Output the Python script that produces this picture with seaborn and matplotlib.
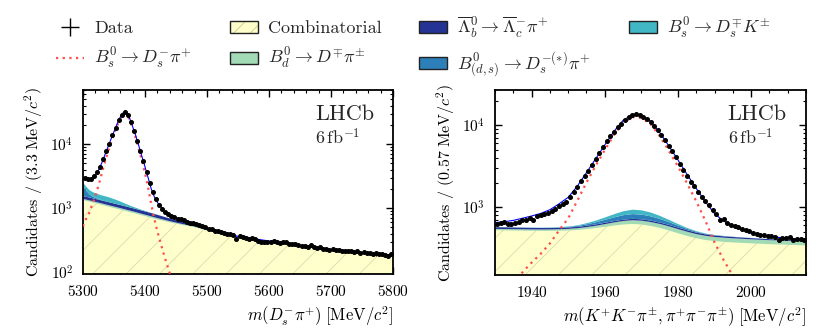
import numpy as np
import matplotlib
matplotlib.use("Agg")
import matplotlib.pyplot as plt
import seaborn as sns
from matplotlib.lines import Line2D
from matplotlib.patches import Patch
from matplotlib.ticker import MultipleLocator, NullFormatter

sns.set_theme(style="ticks")
plt.rcParams.update({
    "font.family": "serif",
    "font.serif": ["cmr10"],
    "mathtext.fontset": "cm",
    "axes.unicode_minus": False,
    "axes.formatter.use_mathtext": True,
    "hatch.linewidth": 0.6,
    "axes.linewidth": 1.3,
    "axes.edgecolor": "black",
})

# ---------------- left panel: m(Ds- pi+) ----------------
dspi_centers = np.arange(5302.5, 5800, 5.0)
dspi_counts = [
    2960, 2800, 2850, 3150, 3600, 4400, 5750, 7800, 10200, 13800,
    18100, 23600, 28700, 31200, 28300, 22500, 16000, 11300, 7900, 5400,
    3650, 2450, 1800, 1370, 1120, 960, 870, 800, 750, 720,
    680, 665, 640, 615, 590, 585, 560, 540, 530, 500,
    478, 470, 445, 440, 430, 405, 400, 395, 375, 330,
    365, 350, 345, 330, 340, 325, 305, 300, 290, 300,
    298, 310, 295, 285, 292, 290, 275, 270, 272, 262,
    255, 255, 250, 262, 245, 240, 242, 230, 233, 222,
    226, 218, 222, 214, 216, 210, 213, 206, 210, 200,
    204, 196, 199, 192, 195, 190, 194, 186, 180, 190,
]

dspi_fit_x = [5300, 5305, 5310, 5315, 5320, 5325, 5330, 5335, 5340, 5345,
              5350, 5355, 5360, 5365, 5370, 5375, 5380, 5385, 5390, 5395,
              5400, 5405, 5410, 5415, 5420, 5425, 5430, 5435, 5440, 5445,
              5450, 5455, 5460, 5470, 5480, 5490, 5500, 5525, 5550, 5600,
              5650, 5700, 5750, 5800]
dspi_comb = [1350, 1315, 1280, 1245, 1210, 1175, 1140, 1107, 1075, 1045,
             1015, 987, 960, 932, 905, 880, 855, 830, 805, 782,
             760, 737, 715, 695, 675, 657, 640, 624, 608, 594,
             580, 567, 555, 532, 510, 480, 450, 398, 348, 297,
             257, 219, 197, 181]
dspi_bd = [60, 60, 60, 60, 60, 60, 60, 59, 58, 57,
           56, 55, 53, 52, 50, 49, 47, 46, 44, 42,
           40, 38, 36, 34, 32, 30, 28, 26, 24, 22,
           20, 18, 17, 14, 12, 10, 9, 6, 4, 3,
           2, 2, 1, 1]
dspi_lb = [150, 148, 145, 142, 140, 138, 135, 133, 130, 128,
           125, 122, 120, 118, 115, 112, 110, 108, 105, 102,
           100, 97, 95, 91, 88, 82, 75, 70, 65, 60,
           56, 52, 48, 42, 36, 30, 24, 14, 9, 6,
           4, 3, 2, 2]
dspi_bds = [620, 350, 170, 90, 50, 28, 15, 9, 5, 3,
            2, 1, 0, 0, 0, 0, 0, 0, 0, 0,
            0, 0, 0, 0, 0, 0, 0, 0, 0, 0,
            0, 0, 0, 0, 0, 0, 0, 0, 0, 0,
            0, 0, 0, 0]
dspi_bsk = [300, 290, 280, 272, 265, 260, 255, 248, 240, 222,
            200, 175, 150, 122, 95, 73, 55, 41, 30, 21,
            15, 10, 7, 5, 3, 2, 1, 0, 0, 0,
            0, 0, 0, 0, 0, 0, 0, 0, 0, 0,
            0, 0, 0, 0]
dspi_sig = [520, 680, 840, 1150, 1550, 2250, 3400, 5100, 7400, 10400,
            14300, 19300, 25000, 30000, 29300, 24500, 17800, 12600, 8400, 5500,
            3500, 2100, 1150, 680, 430, 290, 195, 135, 95, 66,
            46, 32, 22, 11, 5, 2.2, 1, 0.1, 0.01, 0.001,
            0.001, 0.001, 0.001, 0.001]

# ---------------- right panel: m(Ds) ----------------
ds_centers = np.arange(1930.5, 2015, 1.0)
ds_counts = [
    625, 640, 668, 615, 622, 645, 655, 700, 690, 730,
    690, 770, 800, 818, 860, 895, 950, 1020, 1090, 1170,
    1340, 1520, 1780, 2060, 2380, 2780, 3250, 3900, 4550, 5400,
    6350, 7350, 8400, 9500, 10500, 11600, 12500, 13200, 13600, 13400,
    12800, 12000, 11000, 9850, 8700, 7600, 6600, 5650, 4800, 4050,
    3400, 2850, 2400, 2050, 1790, 1540, 1350, 1180, 1050, 930,
    830, 690, 720, 640, 610, 590, 575, 548, 530, 505,
    485, 472, 462, 458, 445, 448, 432, 398, 425, 420,
    428, 396, 410, 404, 400,
]

ds_fit_x = np.arange(1930, 2015.1, 2.5)
ds_comb = [530, 528, 526, 524, 522, 521, 521, 523, 527, 535,
           548, 565, 585, 606, 624, 632, 622, 598, 565, 525,
           485, 450, 422, 402, 390, 382, 376, 371, 366, 362,
           358, 355, 352, 349, 346]
ds_bd = [20, 20, 20, 20, 20, 20, 21, 22, 24, 27,
         31, 37, 45, 55, 64, 70, 70, 68, 66, 64,
         60, 56, 52, 50, 48, 47, 46, 45, 44, 43,
         42, 42, 41, 41, 40]
ds_lb = [28, 27, 26, 25, 24, 23, 22, 22, 22, 22,
         23, 24, 25, 26, 27, 28, 28, 27, 26, 25,
         24, 22, 21, 19, 18, 17, 16, 15, 14, 13,
         12, 11, 10, 9, 8]
ds_bds = [1, 1, 1, 2, 2, 3, 4, 6, 9, 14,
          25, 38, 56, 75, 95, 105, 102, 90, 70, 50,
          33, 20, 12, 7, 4, 3, 2, 1, 1, 1,
          1, 1, 1, 1, 1]
ds_bsk = [1, 1, 1, 1, 2, 2, 3, 5, 7, 11,
          20, 32, 50, 72, 95, 110, 105, 88, 65, 43,
          26, 15, 8, 4, 3, 2, 1, 1, 1, 1,
          1, 1, 1, 1, 1]
ds_sig = [67, 87, 115, 160, 210, 270, 360, 520, 730, 1200,
          2000, 3200, 5000, 7600, 10600, 12600, 12300, 10400, 7400, 4900,
          3150, 1950, 1180, 680, 370, 225, 145, 95, 62, 40,
          26, 17, 11, 7, 4]

C_COMB = "#ffffcc"
C_BD = "#a1dab4"
C_LB = "#253494"
C_BDS = "#2c7fb8"
C_BSK = "#41b6c4"
C_SIG = "#ff4d4d"


def draw_panel(ax, centers, counts, half_bin, fit_x, parts, signal):
    fit_x = np.asarray(fit_x, float)
    stack = np.cumsum(np.array(parts, float), axis=0)
    ax.fill_between(fit_x, np.ones_like(fit_x), stack[0], facecolor=C_COMB,
                    edgecolor="#dadab0", hatch="/", lw=0, zorder=1)
    lower = stack[0]
    for upper, col in zip(stack[1:], [C_BD, C_LB, C_BDS, C_BSK]):
        ax.fill_between(fit_x, lower, upper, color=col, lw=0, zorder=1)
        lower = upper
    signal = np.asarray(signal, float)
    total = stack[-1] + signal
    sns.lineplot(x=fit_x, y=signal, ax=ax, color=C_SIG, lw=1.6,
                 linestyle=(0, (1, 2)), zorder=3)
    sns.lineplot(x=fit_x, y=total, ax=ax, color="blue", lw=0.8, zorder=4)
    counts = np.asarray(counts, float)
    ax.errorbar(centers, counts, yerr=np.sqrt(counts), xerr=half_bin, fmt="o",
                ms=2.6, color="black", elinewidth=0.8, capsize=0, zorder=5)
    ax.set_yscale("log")
    ax.tick_params(which="both", direction="in", top=True, right=True,
                   labelsize=11, colors="black")
    ax.tick_params(which="major", length=5, width=1.0, pad=7)
    ax.tick_params(which="minor", length=2.5, width=0.8)
    ax.yaxis.set_minor_formatter(NullFormatter())
    ax.text(0.748, 0.87, "LHCb", transform=ax.transAxes, fontsize=16,
            ha="left", va="center")
    ax.text(0.748, 0.745, r"$6\,\mathrm{fb}^{-1}$", transform=ax.transAxes,
            fontsize=13, ha="left", va="center")


fig = plt.figure(figsize=(8.3, 3.33), dpi=100)
ax1 = fig.add_axes([0.1, 0.177, 0.3735, 0.5526])
ax2 = fig.add_axes([0.5964, 0.174, 0.3747, 0.5556])

draw_panel(ax1, dspi_centers, dspi_counts, 2.5, dspi_fit_x,
           [dspi_comb, dspi_bd, dspi_lb, dspi_bds, dspi_bsk], dspi_sig)
ax1.set_xlim(5300, 5800)
ax1.set_ylim(93, 7e4)
ax1.xaxis.set_major_locator(MultipleLocator(100))
ax1.xaxis.set_minor_locator(MultipleLocator(20))
ax1.set_xlabel(r"$m(D_s^{-}\pi^{+})\;[\mathrm{MeV}/c^2]$", fontsize=12, loc="right")
ax1.set_ylabel(r"Candidates / $(3.3\;\mathrm{MeV}/c^2)$", fontsize=11.5)

draw_panel(ax2, ds_centers, ds_counts, 0.5, ds_fit_x,
           [ds_comb, ds_bd, ds_lb, ds_bds, ds_bsk], ds_sig)
ax2.set_xlim(1930, 2015)
ax2.set_ylim(148, 2.7e4)
ax2.xaxis.set_major_locator(MultipleLocator(20))
ax2.xaxis.set_minor_locator(MultipleLocator(5))
ax2.set_xlabel(r"$m(K^{+}K^{-}\pi^{\pm},\pi^{+}\pi^{-}\pi^{\pm})\;[\mathrm{MeV}/c^2]$",
               fontsize=12, loc="right")
ax2.set_ylabel(r"Candidates / $(0.57\;\mathrm{MeV}/c^2)$", fontsize=11.5)

for ax in (ax1, ax2):
    ax.xaxis.label.set_color("black")
    ax.yaxis.label.set_color("black")

handles = [
    Line2D([], [], color="black", marker="+", ls="none", ms=13, mew=1.0),
    Line2D([], [], color=C_SIG, ls=(0, (1, 2)), lw=1.6),
    (Patch(facecolor=C_COMB, edgecolor="#c8c890", hatch="//", lw=0),
     Patch(facecolor="none", edgecolor="#222222", lw=1.0)),
    Patch(facecolor=C_BD, edgecolor="#222222", lw=1.0),
    Patch(facecolor=C_LB, edgecolor="#222222", lw=1.0),
    Patch(facecolor=C_BDS, edgecolor="#222222", lw=1.0),
    Patch(facecolor=C_BSK, edgecolor="#222222", lw=1.0),
]
labels = [
    "Data",
    r"$B_s^0 \to D_s^{-}\pi^{+}$",
    "Combinatorial",
    r"$B_d^0 \to D^{\mp}\pi^{\pm}$",
    r"$\overline{\Lambda}{}_b^0 \to \overline{\Lambda}{}_c^{-}\pi^{+}$",
    r"$B_{(d,s)}^0 \to D_s^{-(*)}\pi^{+}$",
    r"$B_s^0 \to D_s^{\mp}K^{\pm}$",
]
fig.legend(handles, labels, loc="upper left", bbox_to_anchor=(0.0675, 0.955),
           ncol=4, frameon=False, fontsize=13, handlelength=1.55,
           handletextpad=0.55, columnspacing=2.1, labelspacing=0.55,
           borderpad=0, borderaxespad=0)

fig.savefig("out.png", dpi=100)
